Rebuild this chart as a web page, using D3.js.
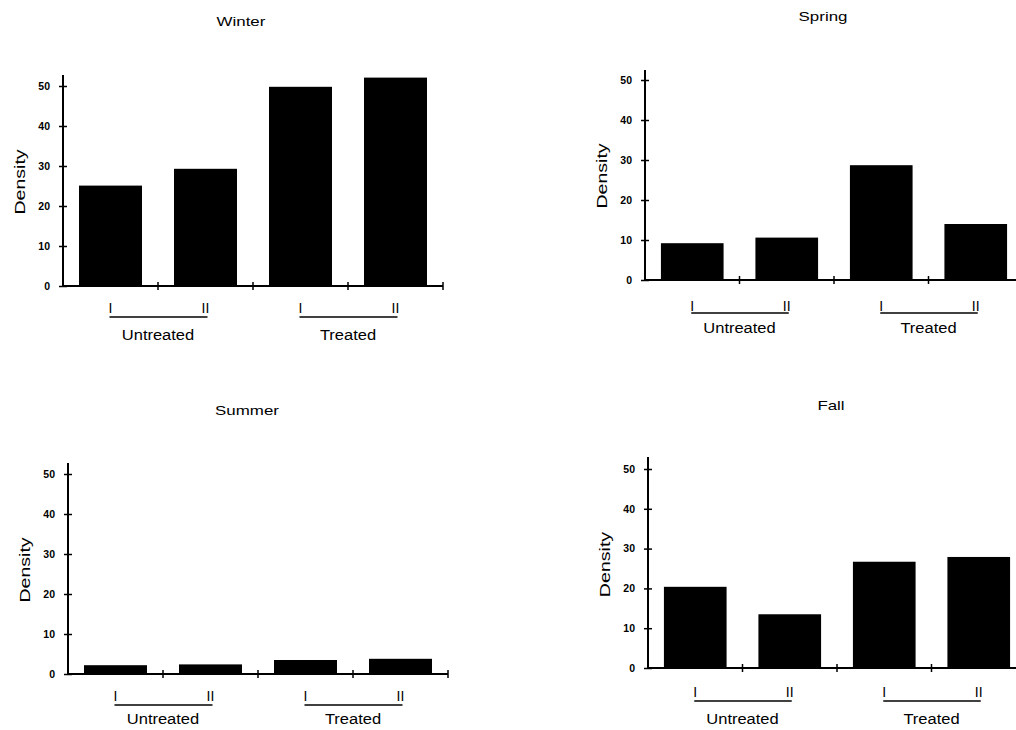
<!DOCTYPE html>
<html><head><meta charset="utf-8">
<script src="https://cdn.jsdelivr.net/npm/d3@7"></script>
<style>body{margin:0;background:#fff} svg{display:block}</style>
</head><body>
<svg id="c" width="1016" height="730"></svg>
<script>
const seasons = ["Winter", "Spring", "Summer", "Fall"];
const plots = ["Untreated I", "Untreated II", "Treated I", "Treated II"];
const plotLabels = ["I", "II", "I", "II"];
const groups = ["Untreated", "Treated"];
const winterValues = [25.1, 29.3, 49.8, 52.1];
const springValues = [9.2, 10.6, 28.7, 14.0];
const summerValues = [2.2, 2.4, 3.5, 3.8];
const fallValues = [20.4, 13.5, 26.7, 27.9];
const yTicks = [0, 10, 20, 30, 40, 50];
const yLabel = "Density";
const seriesValues = [winterValues, springValues, summerValues, fallValues];

const layout = [
  {x0: 63,  x1: 443,  y0: 286, y50: 86,  top: 75,  titleX: 241, titleY: 21,  plDy: 22, lineDy: 31, grpDy: 49},
  {x0: 645, x1: 1023, y0: 280, y50: 80,  top: 70,  titleX: 823, titleY: 16,  plDy: 26, lineDy: 33, grpDy: 48},
  {x0: 68,  x1: 448,  y0: 674, y50: 474, top: 463, titleX: 247, titleY: 410, plDy: 22, lineDy: 31, grpDy: 45},
  {x0: 648, x1: 1026, y0: 668, y50: 469, top: 457, titleX: 831, titleY: 405, plDy: 24, lineDy: 33, grpDy: 51}
];

const FONT = "'Liberation Sans', Arial, Helvetica, sans-serif";
const svg = d3.select("#c");

seasons.forEach((season, i) => {
  const L = layout[i];
  const vals = seriesValues[i];
  const g = svg.append("g");

  const pad = 0.337;
  const x = d3.scaleBand().domain(plots).range([L.x0, L.x1])
    .paddingInner(pad).paddingOuter(pad / 2);
  const y = d3.scaleLinear().domain([0, 50]).range([L.y0, L.y50]);
  const bw = x.bandwidth();

  // title
  g.append("text")
    .attr("transform", `translate(${L.titleX},${L.titleY}) scale(1.3,1)`)
    .attr("text-anchor", "middle").attr("dy", "0.35em")
    .style("font-family", FONT).style("font-size", "13px")
    .text(season);

  // bars
  g.selectAll("rect.bar").data(vals).join("rect")
    .attr("class", "bar")
    .attr("x", (d, k) => x(plots[k]))
    .attr("y", d => y(d))
    .attr("width", bw)
    .attr("height", d => y(0) - y(d))
    .attr("fill", "#000");

  // y axis
  const yAxis = d3.axisLeft(y).tickValues(yTicks).tickSizeInner(4).tickSizeOuter(0).tickPadding(9);
  const ya = g.append("g").attr("transform", `translate(${L.x0},0)`).call(yAxis);
  ya.select(".domain").remove();
  ya.selectAll(".tick line").attr("x1", 4).attr("stroke", "#000").attr("stroke-width", 1.5);
  ya.selectAll(".tick text")
    .style("font-family", FONT).style("font-size", "10.5px").style("font-weight", "bold")
    .attr("fill", "#000");
  g.append("line")
    .attr("x1", L.x0).attr("x2", L.x0)
    .attr("y1", y(0)).attr("y2", L.top)
    .attr("stroke", "#000").attr("stroke-width", 2);

  // x axis baseline
  g.append("line")
    .attr("x1", L.x0).attr("x2", L.x1)
    .attr("y1", y(0)).attr("y2", y(0))
    .attr("stroke", "#000").attr("stroke-width", 2);
  const bounds = plots.map(p => x(p) + bw + x.step() * pad / 2);
  g.selectAll("line.xt").data(bounds).join("line")
    .attr("class", "xt")
    .attr("x1", d => d).attr("x2", d => d)
    .attr("y1", y(0) - 4).attr("y2", y(0) + 4)
    .attr("stroke", "#000").attr("stroke-width", 1.5);

  // y label
  g.append("text")
    .attr("transform", `translate(${L.x0 - 43},${y(26)}) rotate(-90) scale(1.35,1)`)
    .attr("text-anchor", "middle").attr("dy", "0.35em")
    .style("font-family", FONT).style("font-size", "14.5px")
    .text(yLabel);

  // plot labels I / II
  g.selectAll("text.pl").data(plotLabels).join("text")
    .attr("class", "pl")
    .attr("x", (d, k) => x(plots[k]) + bw / 2)
    .attr("y", y(0) + L.plDy).attr("dy", "0.35em")
    .attr("text-anchor", "middle")
    .attr("fill", "#000")
    .style("font-family", FONT).style("font-size", "14px")
    .text(d => d);

  // group underline + labels
  groups.forEach((grp, j) => {
    const a = x(plots[2 * j]) + bw / 2;
    const b = x(plots[2 * j + 1]) + bw / 2;
    g.append("line")
      .attr("x1", a - 1).attr("x2", b + 2)
      .attr("y1", y(0) + L.lineDy).attr("y2", y(0) + L.lineDy)
      .attr("stroke", "#000").attr("stroke-width", 1.5);
    g.append("text")
      .attr("transform", `translate(${(a + b) / 2},${y(0) + L.grpDy}) scale(1.1,1)`)
      .attr("text-anchor", "middle").attr("dy", "0.35em")
      .style("font-family", FONT).style("font-size", "15px")
      .text(grp);
  });
});
</script>
</body></html>
